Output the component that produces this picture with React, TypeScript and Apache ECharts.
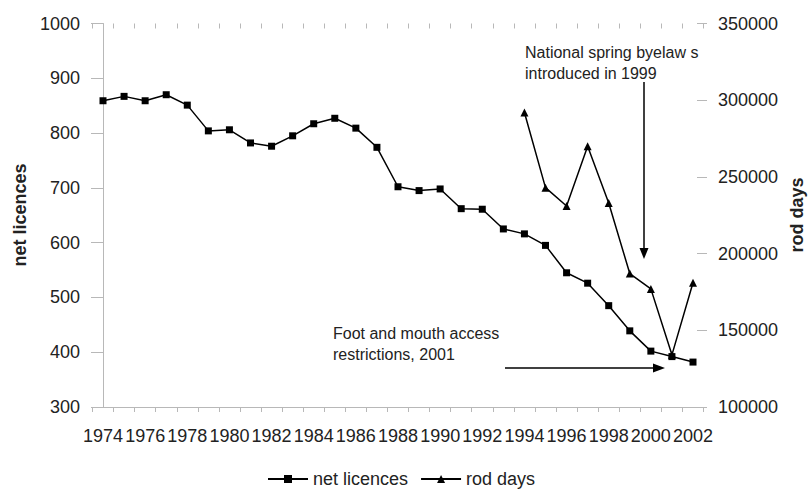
import React, { useEffect, useRef } from "react";
import * as echarts from "echarts";

const years: string[] = [
  "1974", "1975", "1976", "1977", "1978", "1979", "1980", "1981", "1982", "1983",
  "1984", "1985", "1986", "1987", "1988", "1989", "1990", "1991", "1992", "1993",
  "1994", "1995", "1996", "1997", "1998", "1999", "2000", "2001", "2002",
];

const netLicences: number[] = [
  859, 867, 859, 870, 851, 804, 806, 782, 776, 795,
  817, 827, 809, 774, 702, 695, 698, 662, 661, 625,
  616, 595, 545, 526, 485, 439, 402, 392, 382,
];

const rodDays: (number | null)[] = [
  null, null, null, null, null, null, null, null, null, null,
  null, null, null, null, null, null, null, null, null, null,
  292000, 243000, 231000, 270000, 233000, 187000, 177000, 134000, 181000,
];

const seriesNames = ["net licences", "rod days"];
const leftAxisName = "net licences";
const rightAxisName = "rod days";
const noteSpring = ["National spring byelaw s", "introduced in 1999"];
const noteFoot = ["Foot and mouth access", "restrictions, 2001"];

const FONT = "'Liberation Sans', Arial, sans-serif";
const TXT = "#222";
const AX = "#b8b8b8";

export default function App() {
  const ref = useRef<HTMLDivElement>(null);
  useEffect(() => {
    if (!ref.current) return;
    const chart = echarts.init(ref.current, undefined, { renderer: "svg" });
    const gTop = 23.5;
    const gHeight = 383.5;
    const plain = (v: number) => String(v);
    chart.setOption({
      animation: false,
      backgroundColor: "#fff",
      textStyle: { fontFamily: FONT },
      grid: [
        { left: 103, width: 590, top: gTop, height: gHeight },
        { left: 92.5, width: 611, top: gTop, height: gHeight },
      ],
      legend: {
        data: seriesNames,
        left: 262,
        top: 465,
        itemWidth: 40,
        itemHeight: 10,
        itemGap: 12,
        textStyle: { fontSize: 18, color: TXT, fontFamily: FONT },
      },
      xAxis: [
        {
          type: "category",
          gridIndex: 0,
          data: years,
          boundaryGap: false,
          axisLine: { show: false },
          axisTick: { show: false },
          axisLabel: { interval: 1, fontSize: 18, color: TXT, margin: 20, fontFamily: FONT },
          splitLine: { show: false },
        },
        {
          type: "value",
          gridIndex: 1,
          min: 0,
          max: 29,
          interval: 1,
          axisLine: { show: true, lineStyle: { color: AX, width: 1 } },
          axisTick: { show: true, length: 5, lineStyle: { color: AX } },
          axisLabel: { show: false },
          splitLine: { show: false },
        },
        {
          type: "value",
          gridIndex: 1,
          min: 0,
          max: 29,
          interval: 1,
          axisLine: { show: false },
          axisTick: { show: true, inside: true, length: 5, lineStyle: { color: AX } },
          axisLabel: { show: false },
          splitLine: { show: false },
        },
      ],
      yAxis: [
        {
          type: "value",
          gridIndex: 0,
          min: 300,
          max: 1000,
          interval: 100,
          position: "left",
          axisLine: { show: true, lineStyle: { color: AX } },
          axisTick: { show: true, length: 12, lineStyle: { color: AX } },
          axisLabel: { fontSize: 18, color: TXT, margin: 23, fontFamily: FONT, formatter: plain },
          splitLine: { show: false },
        },
        {
          type: "value",
          gridIndex: 0,
          min: 100000,
          max: 350000,
          interval: 50000,
          position: "right",
          offset: 4,
          axisLine: { show: false },
          axisTick: { show: true, length: 10, lineStyle: { color: AX } },
          axisLabel: { fontSize: 18, color: TXT, margin: 21, fontFamily: FONT, formatter: plain },
          splitLine: { show: false },
        },
        { type: "value", gridIndex: 1, show: false, min: 0, max: 1 },
      ],
      series: [
        {
          name: seriesNames[0],
          type: "line",
          xAxisIndex: 0,
          yAxisIndex: 0,
          data: netLicences,
          symbol: "rect",
          symbolSize: 7,
          lineStyle: { color: "#000", width: 1.5 },
          itemStyle: { color: "#000" },
        },
        {
          name: seriesNames[1],
          type: "line",
          xAxisIndex: 0,
          yAxisIndex: 1,
          data: rodDays,
          symbol: "triangle",
          symbolSize: 8,
          lineStyle: { color: "#000", width: 1.5 },
          itemStyle: { color: "#000" },
        },
      ],
      graphic: [
        {
          type: "text",
          x: 20,
          y: 215,
          rotation: Math.PI / 2,
          style: {
            text: leftAxisName,
            fontSize: 18,
            fontWeight: "bold",
            fontFamily: FONT,
            fill: TXT,
            align: "center",
            verticalAlign: "middle",
          },
        },
        {
          type: "text",
          x: 797,
          y: 215,
          rotation: Math.PI / 2,
          style: {
            text: rightAxisName,
            fontSize: 18,
            fontWeight: "bold",
            fontFamily: FONT,
            fill: TXT,
            align: "center",
            verticalAlign: "middle",
          },
        },
        {
          type: "text",
          x: 525,
          y: 52,
          style: { text: noteSpring[0], fontSize: 16, fontFamily: FONT, fill: TXT, verticalAlign: "middle" },
        },
        {
          type: "text",
          x: 525,
          y: 73,
          style: { text: noteSpring[1], fontSize: 16, fontFamily: FONT, fill: TXT, verticalAlign: "middle" },
        },
        {
          type: "text",
          x: 333,
          y: 333,
          style: { text: noteFoot[0], fontSize: 16, fontFamily: FONT, fill: TXT, verticalAlign: "middle" },
        },
        {
          type: "text",
          x: 333,
          y: 354,
          style: { text: noteFoot[1], fontSize: 16, fontFamily: FONT, fill: TXT, verticalAlign: "middle" },
        },
        {
          type: "line",
          shape: { x1: 644, y1: 82, x2: 644, y2: 250 },
          style: { stroke: "#000", lineWidth: 1.5 },
        },
        {
          type: "polygon",
          shape: { points: [[639.5, 248], [648.5, 248], [644, 259]] },
          style: { fill: "#000" },
        },
        {
          type: "line",
          shape: { x1: 505, y1: 368, x2: 655, y2: 368 },
          style: { stroke: "#000", lineWidth: 1.5 },
        },
        {
          type: "polygon",
          shape: { points: [[653, 363.5], [653, 372.5], [665, 368]] },
          style: { fill: "#000" },
        },
      ],
    });
    return () => chart.dispose();
  }, []);
  return <div ref={ref} style={{ width: 808, height: 492, position: "absolute", left: 0, top: 0 }} />;
}
